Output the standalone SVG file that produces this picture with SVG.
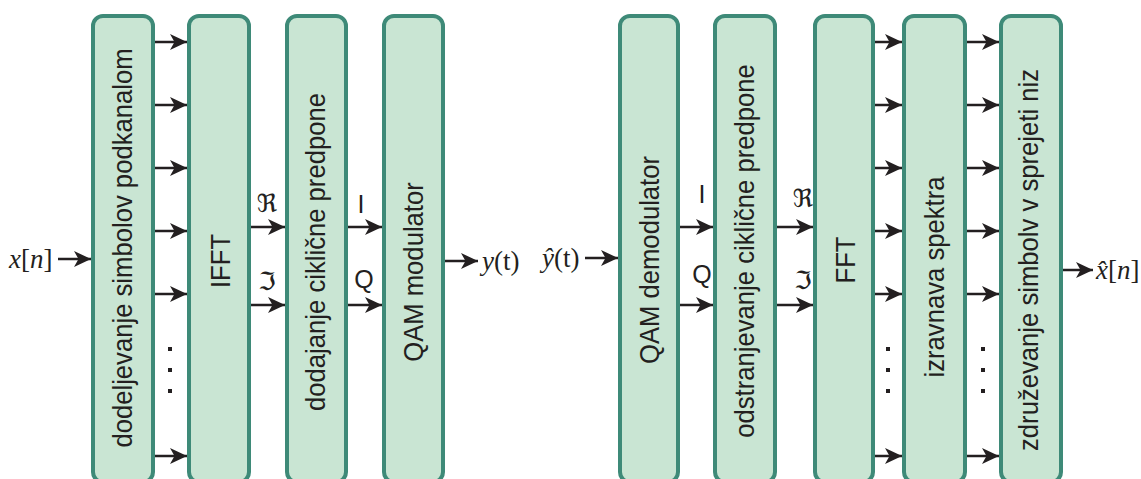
<svg xmlns="http://www.w3.org/2000/svg" width="1141" height="479" viewBox="0 0 1141 479">
<style>
.box{fill:#c9e5d3;stroke:#3e8a78;stroke-width:4}
.lbl{font-family:"Liberation Sans",Arial,sans-serif;font-size:27px;fill:#231f20;text-anchor:middle}
.ar{stroke:#231f20;stroke-width:2.5;fill:none;marker-end:url(#ah)}
.sym{font-family:"Liberation Sans",Arial,sans-serif;font-size:25px;fill:#231f20;text-anchor:middle}
.frak{font-family:"DejaVu Serif","DejaVu Sans",serif;font-size:25px;fill:#231f20;text-anchor:middle}
.math{font-family:"Liberation Serif","Times New Roman",serif;font-size:27px;fill:#231f20}
.dot{fill:#231f20}
</style>
<defs>
<marker id="ah" markerUnits="userSpaceOnUse" markerWidth="20" markerHeight="20" viewBox="-18 -10 20 20" refX="0" refY="0" orient="auto">
<path d="M0,0 L-17,-8 L-12.5,0 L-17,8 Z" fill="#231f20"/>
</marker>
</defs>

<g id="n-dodeljevanje"><rect class="box" x="93" y="16" width="60" height="466" rx="10"/><text class="lbl" transform="translate(123,248) rotate(-90) scale(0.95,1)" y="9">dodeljevanje simbolov podkanalom</text></g>
<g id="n-ifft"><rect class="box" x="189" y="16" width="60" height="466" rx="10"/><text class="lbl" transform="translate(219,261) rotate(-90) scale(0.95,1)" y="11">IFFT</text></g>
<g id="n-dodajanje"><rect class="box" x="287" y="16" width="59" height="466" rx="10"/><text class="lbl" transform="translate(316,252) rotate(-90) scale(0.95,1)" y="9">dodajanje ciklične predpone</text></g>
<g id="n-qammod"><rect class="box" x="384" y="16" width="59" height="466" rx="10"/><text class="lbl" transform="translate(413,272) rotate(-90) scale(0.95,1)" y="10">QAM modulator</text></g>

<g id="n-qamdemod"><rect class="box" x="620" y="16" width="58" height="466" rx="10"/><text class="lbl" transform="translate(649,260) rotate(-90) scale(0.95,1)" y="10">QAM demodulator</text></g>
<g id="n-odstranjevanje"><rect class="box" x="715" y="16" width="60" height="466" rx="10"/><text class="lbl" transform="translate(745,251) rotate(-90) scale(0.95,1)" y="9">odstranjevanje ciklične predpone</text></g>
<g id="n-fft"><rect class="box" x="815" y="16" width="58" height="466" rx="10"/><text class="lbl" transform="translate(844,260) rotate(-90) scale(0.95,1)" y="11">FFT</text></g>
<g id="n-izravnava"><rect class="box" x="904" y="16" width="61" height="466" rx="10"/><text class="lbl" transform="translate(934,277) rotate(-90) scale(0.95,1)" y="10">izravnava spektra</text></g>
<g id="n-zdruzevanje"><rect class="box" x="1001" y="16" width="60" height="466" rx="10"/><text class="lbl" transform="translate(1031,260) rotate(-90) scale(0.95,1)" y="7">združevanje simbolv v sprejeti niz</text></g>

<g id="connectors">
<path class="ar" d="M58,259 H91"/>
<path class="ar" d="M155,42 H187"/>
<path class="ar" d="M155,105 H187"/>
<path class="ar" d="M155,168 H187"/>
<path class="ar" d="M155,231 H187"/>
<path class="ar" d="M155,294 H187"/>
<path class="ar" d="M155,456 H187"/>
<rect class="dot" x="168" y="347" width="4" height="4"/>
<rect class="dot" x="168" y="368" width="4" height="4"/>
<rect class="dot" x="168" y="389" width="4" height="4"/>

<path class="ar" d="M251,227 H285"/>
<path class="ar" d="M251,305 H285"/>
<path class="ar" d="M348,227 H382"/>
<path class="ar" d="M348,305 H382"/>
<path class="ar" d="M445,261 H478"/>

<path class="ar" d="M585,258 H618"/>
<path class="ar" d="M680,227 H713"/>
<path class="ar" d="M680,305 H713"/>
<path class="ar" d="M777,227 H813"/>
<path class="ar" d="M777,305 H813"/>

<path class="ar" d="M875,42 H902"/>
<path class="ar" d="M875,105 H902"/>
<path class="ar" d="M875,168 H902"/>
<path class="ar" d="M875,231 H902"/>
<path class="ar" d="M875,294 H902"/>
<path class="ar" d="M875,456 H902"/>
<rect class="dot" x="886" y="347" width="4" height="4"/>
<rect class="dot" x="886" y="368" width="4" height="4"/>
<rect class="dot" x="886" y="389" width="4" height="4"/>

<path class="ar" d="M967,42 H999"/>
<path class="ar" d="M967,105 H999"/>
<path class="ar" d="M967,168 H999"/>
<path class="ar" d="M967,231 H999"/>
<path class="ar" d="M967,294 H999"/>
<path class="ar" d="M967,456 H999"/>
<rect class="dot" x="981" y="347" width="4" height="4"/>
<rect class="dot" x="981" y="368" width="4" height="4"/>
<rect class="dot" x="981" y="389" width="4" height="4"/>

<path class="ar" d="M1063,270 H1093"/>
</g>

<g id="labels">
<text class="math" x="9" y="268"><tspan font-style="italic">x</tspan>[<tspan font-style="italic">n</tspan>]</text>
<text class="math" x="482" y="270"><tspan font-style="italic">y</tspan>(t)</text>
<text class="math" x="542" y="267"><tspan font-style="italic">y&#770;</tspan>(t)</text>
<text class="math" x="1096" y="279"><tspan font-style="italic">x&#770;</tspan>[<tspan font-style="italic">n</tspan>]</text>

<text class="frak" x="267" y="212">ℜ</text>
<text class="frak" x="267" y="290">ℑ</text>
<text class="frak" x="803" y="207">ℜ</text>
<text class="frak" x="803" y="289">ℑ</text>

<text class="sym" x="361" y="213">I</text>
<text class="sym" x="364" y="288">Q</text>
<text class="sym" x="702" y="203">I</text>
<text class="sym" x="702" y="283">Q</text>
</g>
</svg>
